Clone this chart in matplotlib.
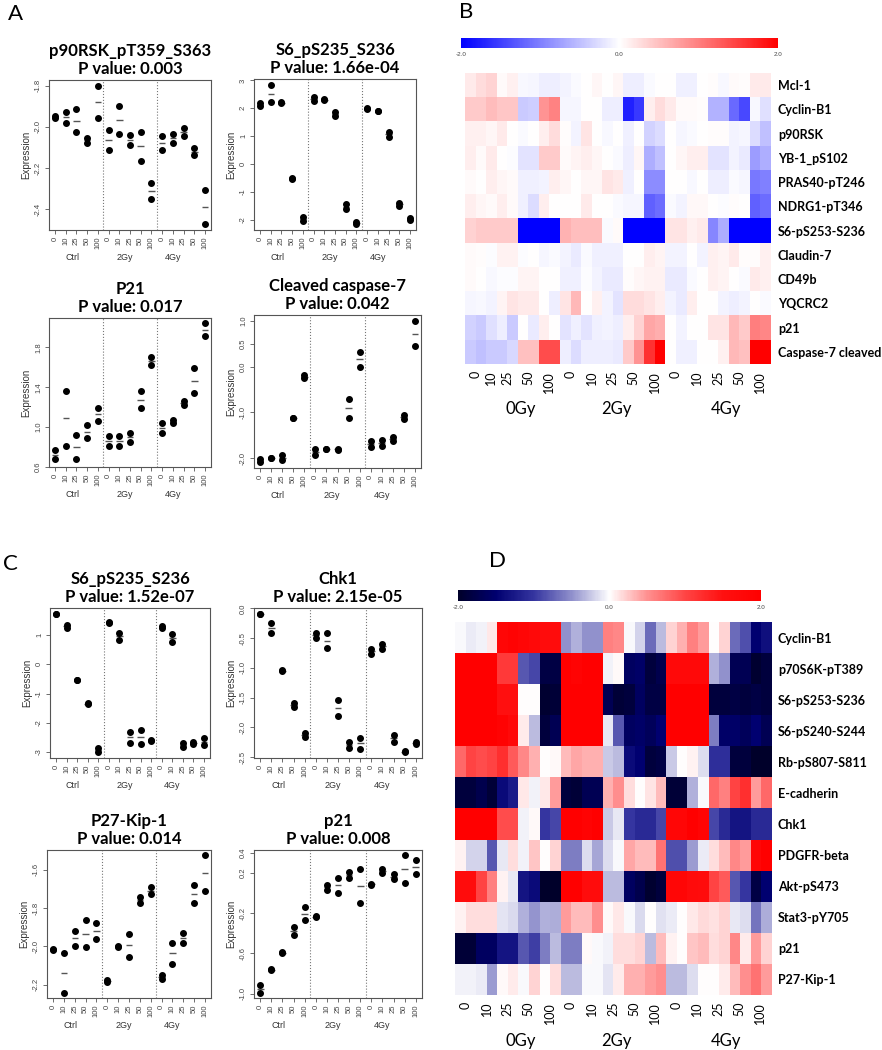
import numpy as np
import matplotlib.pyplot as plt
from matplotlib.colors import LinearSegmentedColormap

plt.rcParams['font.family'] = ['Liberation Sans', 'DejaVu Sans']

W, H = 882, 1050

doses = ['0', '10', '25', '50', '100'] * 3
groups = ['Ctrl', '2Gy', '4Gy']
heat_groups = ['0Gy', '2Gy', '4Gy']

# --- scatter panels (two replicates per dose) ---
p90rsk_r1 = [-1.948, -1.927, -1.916, -2.052, -1.800, -2.013, -1.900, -2.042, -2.024, -2.271, -2.045, -2.034, -2.005, -2.105, -2.308]
p90rsk_r2 = [-1.956, -1.981, -2.024, -2.077, -1.956, -2.113, -2.037, -2.089, -2.166, -2.348, -2.110, -2.077, -2.045, -2.137, -2.473]

s6a_r1 = [2.18, 2.85, 2.21, -0.51, -1.90, 2.39, 2.33, 1.85, -1.44, -2.06, 2.00, 1.91, 1.16, -1.38, -1.93]
s6a_r2 = [2.07, 2.21, 2.18, -0.55, -2.02, 2.25, 2.30, 1.73, -1.60, -2.16, 1.97, 1.89, 0.97, -1.50, -1.99]

p21a_r1 = [0.772, 1.36, 0.92, 1.02, 1.195, 0.914, 0.914, 0.937, 1.36, 1.70, 1.046, 1.07, 1.258, 1.59, 2.04]
p21a_r2 = [0.676, 0.815, 0.683, 0.888, 1.063, 0.808, 0.815, 0.855, 1.19, 1.625, 0.937, 1.04, 1.22, 1.344, 1.91]

casp_r1 = [-2.02, -1.99, -1.93, -1.12, -0.18, -1.79, -1.79, -1.79, -0.71, 0.31, -1.635, -1.61, -1.53, -1.06, 1.00]
casp_r2 = [-2.09, -2.00, -2.04, -1.13, -0.26, -1.93, -1.80, -1.82, -1.12, 0.00, -1.75, -1.74, -1.62, -1.15, 0.44]

s6c_r1 = [1.74, 1.34, -0.53, -1.34, -2.87, 1.45, 1.09, -2.32, -2.25, -2.58, 1.32, 1.05, -2.68, -2.67, -2.53]
s6c_r2 = [1.71, 1.26, -0.55, -1.36, -3.02, 1.43, 0.85, -2.68, -2.74, -2.62, 1.23, 0.75, -2.83, -2.74, -2.77]

chk1_r1 = [-0.085, -0.25, -1.04, -1.59, -2.09, -0.41, -0.42, -1.53, -2.25, -2.17, -0.68, -0.59, -2.12, -2.40, -2.25]
chk1_r2 = [-0.096, -0.42, -1.05, -1.65, -2.16, -0.49, -0.67, -1.81, -2.34, -2.36, -0.76, -0.68, -2.25, -2.42, -2.27]

p27_r1 = [-2.014, -2.034, -1.919, -1.862, -1.876, -2.176, -1.997, -1.934, -1.741, -1.693, -2.147, -1.983, -1.928, -1.678, -1.526]
p27_r2 = [-2.017, -2.241, -1.997, -2.005, -1.962, -2.184, -2.003, -2.057, -1.772, -1.728, -2.172, -2.091, -1.983, -1.776, -1.712]

p21c_r1 = [-0.916, -0.751, -0.587, -0.34, -0.143, -0.225, 0.081, 0.153, 0.209, 0.242, 0.094, 0.236, 0.186, 0.374, 0.328]
p21c_r2 = [-0.988, -0.768, -0.597, -0.42, -0.264, -0.241, 0.032, 0.005, 0.153, -0.10, 0.081, 0.196, 0.137, 0.104, 0.193]

# --- heatmap B (0Gy has one replicate at 10) ---
rows_b = ['Mcl-1', 'Cyclin-B1', 'p90RSK', 'YB-1_pS102', 'PRAS40-pT246', 'NDRG1-pT346',
          'S6-pS253-S236', 'Claudin-7', 'CD49b', 'YQCRC2', 'p21', 'Caspase-7 cleaved']
heat_b = [
    [0.16, 0.27, 0.34, 0.04, 0.11, -0.05, -0.07, -0.14, -0.14, -0.08, -0.04, 0.0, 0.07, 0.0, 0.07, -0.14, -0.14, -0.04, 0.0, 0.0, -0.11, -0.11, 0.0, 0.03, -0.05, 0.04, 0.03, 0.16, 0.16],
    [0.42, 0.42, 0.53, 0.45, 0.45, -0.42, -0.39, 0.84, 0.98, -0.07, -0.07, 0.0, 0.0, -0.14, -0.14, -1.75, -1.55, 0.14, 0.28, 0.17, 0.04, 0.04, 0.03, -0.6, -0.6, -1.17, -1.43, -0.05, -0.25],
    [0.11, 0.11, 0.07, 0.17, 0.0, -0.04, 0.0, 0.14, 0.28, 0.03, -0.08, 0.21, 0.0, -0.06, 0.0, -0.11, 0.0, -0.35, -0.28, 0.0, -0.07, -0.04, 0.0, 0.03, 0.03, -0.08, -0.07, -0.28, -0.49],
    [0.14, 0.04, 0.17, 0.0, -0.03, -0.21, -0.21, 0.42, 0.42, 0.04, 0.08, 0.14, 0.07, 0.0, -0.04, -0.14, 0.07, -0.63, -0.49, 0.0, 0.07, 0.14, 0.14, -0.21, -0.21, -0.08, -0.17, -0.77, -0.63],
    [0.04, 0.0, 0.14, 0.07, 0.04, -0.11, -0.11, -0.08, 0.14, 0.07, 0.0, 0.07, 0.07, 0.21, 0.17, -0.11, 0.0, -0.9, -0.9, 0.0, 0.0, -0.06, 0.0, -0.14, -0.14, -0.04, -0.07, -1.05, -1.0],
    [0.14, 0.07, 0.04, 0.14, 0.04, -0.11, -0.28, 0.14, 0.0, 0.0, 0.0, 0.17, 0.0, 0.0, -0.04, -0.07, -0.07, -1.25, -1.15, -0.04, -0.08, 0.06, 0.06, 0.0, -0.03, 0.03, 0.0, -1.25, -1.15],
    [0.35, 0.42, 0.42, 0.42, 0.42, -2, -2, -2, -2, 0.6, 0.5, 0.5, 0.5, -0.04, 0.04, -2, -2, -2, -2, 0.21, 0.21, 0.11, 0.17, -0.95, -0.65, -2, -2, -2, -2],
    [0.04, 0.03, -0.03, 0.1, 0.1, -0.03, 0.0, -0.07, -0.04, -0.08, -0.17, -0.04, -0.11, -0.11, -0.11, 0.0, 0.0, 0.14, 0.08, -0.08, -0.08, 0.0, -0.08, 0.11, 0.08, 0.17, 0.03, 0.03, 0.11],
    [0.04, 0.0, -0.06, -0.03, -0.03, 0.08, 0.08, 0.0, 0.0, -0.11, -0.11, -0.03, -0.08, -0.17, -0.17, 0.03, 0.07, 0.1, 0.1, -0.17, -0.17, -0.04, 0.0, 0.11, 0.08, 0.0, -0.04, 0.17, 0.11],
    [-0.07, -0.06, -0.08, 0.08, 0.21, 0.17, 0.17, 0.0, -0.14, 0.21, 0.56, 0.0, 0.11, -0.08, -0.21, 0.28, 0.28, 0.21, 0.14, -0.08, -0.17, 0.14, 0.0, 0.0, -0.08, -0.14, -0.08, 0.0, -0.04],
    [-0.35, -0.42, -0.25, -0.14, -0.42, 0.0, -0.17, 0.14, 0.0, -0.21, -0.11, -0.21, -0.11, -0.08, -0.14, 0.14, 0.35, 0.7, 0.63, 0.0, -0.08, 0.0, 0.0, 0.21, 0.21, 0.56, 0.42, 1.0, 0.95],
    [-0.42, -0.49, -0.42, -0.42, -0.31, 0.49, 0.49, 1.4, 1.4, -0.14, -0.28, -0.14, -0.14, -0.14, -0.17, 0.42, 0.84, 1.6, 2.0, 0.0, -0.11, -0.11, 0.0, 0.0, 0.11, 0.56, 0.49, 2.0, 2.0],
]
ticks_b = [1, 2.5, 4, 6, 8, 10, 12, 14, 16, 18, 20, 22, 24, 26, 28]

# --- heatmap D ---
rows_d = ['Cyclin-B1', 'p70S6K-pT389', 'S6-pS253-S236', 'S6-pS240-S244', 'Rb-pS807-S811', 'E-cadherin',
          'Chk1', 'PDGFR-beta', 'Akt-pS473', 'Stat3-pY705', 'p21', 'P27-Kip-1']
heat_d = [
    [-0.03, -0.08, -0.05, 0.1, 1.8, 1.9, 1.8, 1.7, 1.6, 1.6, -0.5, -0.35, -0.5, -0.5, 0.6, 0.55, -0.03, -0.2, -0.7, -0.3, 0.2, 0.35, 0.6, 0.45, 0.0, 0.2, -0.7, -0.85, -1.5, -1.35],
    [2, 2, 2, 2, 1.1, 1.1, -0.8, -0.9, -1.8, -1.8, 2, 1.9, 2, 2, -0.05, 0.03, -1.6, -1.55, -1.85, -1.75, 1.7, 1.7, 1.7, 1.7, -0.35, -0.5, -1.7, -1.7, -1.95, -1.85],
    [2, 2, 2, 2, 1.5, 1.5, 0.0, 0.0, -1.95, -1.9, 2, 2, 2, 2, -1.7, -1.9, -1.85, -1.6, -1.8, -1.8, 2, 2, 2, 2, -1.85, -1.85, -1.8, -1.85, -1.8, -1.85],
    [2, 2, 2, 2, 1.9, 1.7, 0.08, -0.3, -1.85, -1.7, 2, 2, 2, 2, -0.1, -0.8, -1.6, -1.55, -1.65, -1.5, 2, 2, 2, 2, -0.6, -1.55, -1.55, -1.65, -1.5, -1.7],
    [0.75, 1.0, 0.95, 1.0, 1.2, 0.85, 0.55, 0.35, 0.0, 0.03, 0.3, 0.4, 0.35, 0.35, -0.25, -0.3, -1.4, -1.5, -1.85, -1.8, -0.25, 0.0, 0.05, -0.15, -1.05, -1.05, -1.85, -1.85, -2.0, -2.0],
    [-1.85, -1.85, -1.75, -1.9, -1.4, -1.25, 0.1, -0.05, 0.1, 0.45, -1.85, -1.9, -1.7, -1.7, 0.35, 0.5, 0.15, 0.0, 0.12, 0.3, -1.9, -1.9, -0.35, -0.03, 0.75, 0.6, 1.0, 1.2, 0.45, 0.75],
    [2, 2, 2, 2, 0.95, 0.95, -0.05, 0.03, -1.0, -0.9, 2, 2, 1.9, 2, -0.25, -0.1, -1.0, -1.1, -1.1, -0.9, 1.8, 1.8, 2, 1.85, -0.9, -1.1, -1.3, -1.3, -1.1, -1.1],
    [0.05, -0.2, -0.2, -0.8, -0.1, 0.15, -0.05, 0.25, 0.0, 0.2, -0.6, -0.6, -0.15, -0.4, -0.15, -0.03, 0.4, 0.3, 0.3, 0.7, -0.85, -0.85, -0.45, -0.08, 0.15, 0.3, 0.55, 0.45, 1.8, 2.0],
    [1.6, 1.6, 1.0, 0.6, 0.05, -0.1, -1.3, -1.4, -2.0, -2.0, 2, 2, 1.6, 1.6, -0.3, -0.3, -1.6, -1.75, -1.95, -1.85, 1.8, 1.8, 1.65, 1.6, 1.0, 0.85, -0.8, -1.0, -1.8, -1.5],
    [0.06, 0.15, 0.15, 0.15, -0.11, -0.17, -0.35, -0.47, -0.35, -0.37, 0.45, 0.3, 0.3, 0.5, 0.03, 0.1, -0.02, -0.17, 0.0, -0.13, -0.08, 0.0, 0.1, 0.17, 0.13, 0.2, -0.1, -0.15, -0.65, -0.37],
    [-1.9, -1.9, -1.6, -1.6, -1.3, -1.3, -0.8, -0.95, -0.6, -0.3, -0.6, -0.6, 0.03, -0.02, -0.06, 0.15, 0.15, 0.2, -0.3, 0.3, 0.05, 0.0, 0.25, 0.3, 0.15, 0.2, 0.55, 0.08, 0.45, 0.2],
    [-0.05, -0.05, -0.08, -0.45, 0.02, 0.08, -0.03, 0.2, 0.0, 0.15, -0.3, -0.3, -0.03, -0.03, -0.12, 0.08, 0.35, 0.35, 0.45, 0.5, -0.3, -0.3, -0.15, 0.0, 0.0, 0.08, 0.3, 0.5, 0.7, 0.45],
]
ticks_d = [1, 3, 5, 7, 9, 11, 13, 15, 17, 19, 21, 23, 25, 27, 29]

cmap_b = LinearSegmentedColormap.from_list('bwr_b', ['#0000ff', '#ffffff', '#ff0000'])
cmap_d = LinearSegmentedColormap.from_list('bwr_d', [
    (0.0, '#00002a'), (0.125, '#000070'), (0.25, '#3535a0'), (0.375, '#9090cc'),
    (0.5, '#ffffff'), (0.625, '#ff9090'), (0.75, '#ff4545'), (0.875, '#ff1010'), (1.0, '#ff0000')])


def add_ax(x0, y0, x1, y1):
    return fig.add_axes([x0 / W, 1 - y1 / H, (x1 - x0) / W, (y1 - y0) / H])


def scatter_panel(box, r1, r2, name, pval, yticks, ylabels):
    ax = add_ax(*box)
    x = np.arange(1, 16)
    r1 = np.array(r1)
    r2 = np.array(r2)
    ax.axvline(5.5, color='#777777', ls=':', lw=0.8)
    ax.axvline(10.5, color='#777777', ls=':', lw=0.8)
    ax.hlines((r1 + r2) / 2, x - 0.3, x + 0.3, color='#555555', lw=1)
    ax.plot(x, r1, 'o', color='black', ms=4)
    ax.plot(x, r2, 'o', color='black', ms=4)
    ax.set_xlim(0.44, 15.56)
    lo = min(r1.min(), r2.min())
    hi = max(r1.max(), r2.max())
    pad = 0.04 * (hi - lo)
    ax.set_ylim(lo - pad, hi + pad)
    ax.set_xticks(x)
    ax.set_xticklabels(doses, rotation=90)
    ax.set_yticks(yticks)
    ax.set_yticklabels(ylabels, rotation=90, va='center')
    ax.tick_params(labelsize=5.5, labelcolor='#444444', color='#555555', length=3, width=0.6, pad=2)
    for s in ax.spines.values():
        s.set_color('#555555')
        s.set_linewidth(0.8)
    ax.set_ylabel('Expression', fontsize=7, color='#333333', labelpad=3)
    ax.set_title(name + '\nP value: ' + pval, fontsize=12, fontweight='bold', family='Lato',
                 pad=4, linespacing=1.15)
    for gx, g in zip([2.6, 7.5, 12.0], groups):
        ax.annotate(g, xy=(gx, 0), xycoords=('data', 'axes fraction'), xytext=(0, -19.5),
                    textcoords='offset points', ha='center', va='center', fontsize=6.5, color='#333333')
    return ax


def heatmap(box, data, rows, cmap, ticks, cbar_box, group_y):
    data = np.array(data)
    nr, nc = data.shape
    ax = add_ax(*box)
    im = ax.imshow(data, cmap=cmap, vmin=-2, vmax=2, aspect='auto', interpolation='nearest',
                   extent=(0, nc, nr, 0))
    ax.set_yticks(np.arange(nr) + 0.5)
    ax.set_yticklabels(rows, fontweight='bold', fontsize=9, family='Lato')
    ax.yaxis.tick_right()
    ax.set_xticks(ticks)
    ax.set_xticklabels(doses, rotation=90, fontsize=9, family='Lato')
    ax.tick_params(length=0, pad=5)
    for s in ax.spines.values():
        s.set_visible(False)
    cax = add_ax(*cbar_box)
    cb = fig.colorbar(im, cax=cax, orientation='horizontal', ticks=[-2, 0, 2])
    cb.ax.set_xticklabels(['-2.0', '0.0', '2.0'])
    cb.ax.tick_params(labelsize=4.5, length=0, pad=3, labelcolor='#444444')
    cb.outline.set_visible(False)
    for gx, g in zip([521, 616, 726], heat_groups):
        fig.text(gx / W, 1 - group_y / H, g, ha='center', va='center', fontsize=12, family='Lato')
    return ax


fig = plt.figure(figsize=(W / 100, H / 100), dpi=100)

scatter_panel((49, 80, 211, 230), p90rsk_r1, p90rsk_r2, 'p90RSK_pT359_S363', '0.003',
              [-2.4, -2.2, -2.0, -1.8], ['-2.4', '-2.2', '-2.0', '-1.8'])
scatter_panel((254, 79, 416, 230), s6a_r1, s6a_r2, 'S6_pS235_S236', '1.66e-04',
              [-2, -1, 0, 1, 2, 3], ['-2', '-1', '0', '1', '2', '3'])
scatter_panel((49, 318, 211, 467), p21a_r1, p21a_r2, 'P21', '0.017',
              [0.6, 1.0, 1.4, 1.8], ['0.6', '1.0', '1.4', '1.8'])
scatter_panel((254, 315, 421, 468), casp_r1, casp_r2, 'Cleaved caspase-7', '0.042',
              [-2.0, -1.0, 0.0, 0.5, 1.0], ['-2.0', '-1.0', '0.0', '0.5', '1.0'])
scatter_panel((50, 608, 210, 758), s6c_r1, s6c_r2, 'S6_pS235_S236', '1.52e-07',
              [-3, -2, -1, 0, 1], ['-3', '-2', '-1', '0', '1'])
scatter_panel((254, 608, 422, 758), chk1_r1, chk1_r2, 'Chk1', '2.15e-05',
              [-2.5, -2.0, -1.5, -1.0, -0.5, 0.0], ['-2.5', '-2.0', '-1.5', '-1.0', '-0.5', '0.0'])
scatter_panel((47, 850, 211, 998), p27_r1, p27_r2, 'P27-Kip-1', '0.014',
              [-2.2, -2.0, -1.8, -1.6], ['-2.2', '-2.0', '-1.8', '-1.6'])
scatter_panel((254, 850, 422, 998), p21c_r1, p21c_r2, 'p21', '0.008',
              [-1.0, -0.6, -0.2, 0.2, 0.4], ['-1.0', '-0.6', '-0.2', '0.2', '0.4'])

heatmap((465, 73, 771, 364), heat_b, rows_b, cmap_b, ticks_b, (461, 38, 778, 48), 409)
heatmap((455, 622, 771, 995), heat_d, rows_d, cmap_d, ticks_d, (458, 590, 761, 601), 1041)

for lx, ly, lab in [(16, 14, 'A'), (466, 12, 'B'), (10, 564, 'C'), (498, 561, 'D')]:
    fig.text(lx / W, 1 - ly / H, lab, ha='center', va='center', fontsize=16, family='Lato')

fig.savefig('out.png', dpi=100)
